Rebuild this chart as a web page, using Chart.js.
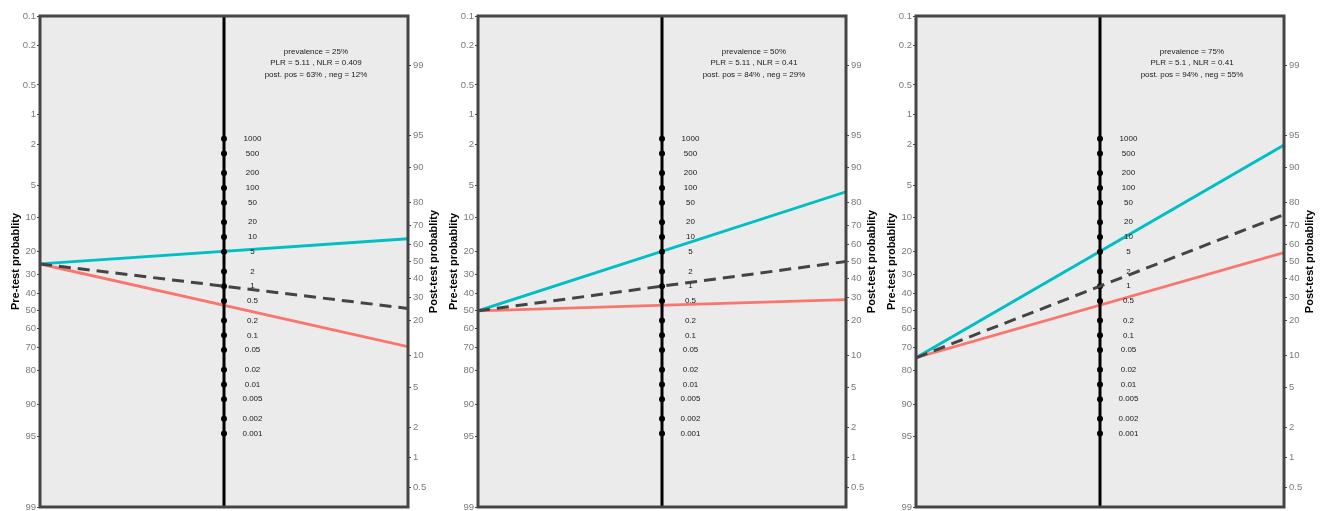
<!DOCTYPE html>
<html>
<head>
<meta charset="utf-8">
<script src="https://cdn.jsdelivr.net/npm/chart.js@4.4.1/dist/chart.umd.min.js"></script>
<style>
  html, body { margin: 0; padding: 0; background: #fff; }
  #wrap { position: relative; width: 1326px; height: 511px; overflow: hidden; }
  #wrap canvas { position: absolute; top: 0; }
</style>
</head>
<body>
<div id="wrap">
  <canvas id="panel0" width="446" height="511" style="left:0px"></canvas>
  <canvas id="panel1" width="446" height="511" style="left:438px"></canvas>
  <canvas id="panel2" width="446" height="511" style="left:876px"></canvas>
</div>
<script>
// Probability ticks (%) used on the pre-test and post-test axes
const PROB_TICKS = [0.1, 0.2, 0.5, 1, 2, 5, 10, 20, 30, 40, 50, 60, 70, 80, 90, 95, 99];
// Likelihood ratio ticks on the middle axis
const LR_TICKS = [0.001, 0.002, 0.005, 0.01, 0.02, 0.05, 0.1, 0.2, 0.5, 1, 2, 5, 10, 20, 50, 100, 200, 500, 1000];

// One entry per panel
const PREVALENCE = [25, 50, 75];
const PLR = [5.11, 5.11, 5.1];
const NLR = [0.409, 0.41, 0.41];
const POST_POS = [63, 84, 94];
const POST_NEG = [12, 29, 55];

const FONT = '"Liberation Sans", Arial, Helvetica, sans-serif';
const COLORS = { pos: '#00BFC4', neg: '#F8766D', nullLine: '#444444' };

// Nomogram transform (log-odds, pre-test axis flipped and shifted)
const logit = p => Math.log(p / (1 - p));
const LO_MIN = logit(PROB_TICKS[0] / 100);
const LO_MAX = logit(PROB_TICKS[PROB_TICKS.length - 1] / 100);
const HALF = (LO_MAX - LO_MIN) / 2;
const SHIFT = Math.abs(LO_MIN) - HALF;
const preY = p => -(logit(p / 100) + SHIFT);
const postY = p => logit(p / 100);
const lrY = lr => (Math.log(lr) - SHIFT) / 2;

// y position (data units) of the first annotation line
const ANNOT_Y = 4.91;

// Draws background, frame, titles, LR labels and annotation
const nomogramPlugin = {
    id: 'nomogram',
    beforeDatasetsDraw(chart) {
        const { ctx, chartArea: a } = chart;
        ctx.save();
        ctx.fillStyle = '#EBEBEB';
        ctx.fillRect(a.left, a.top, a.right - a.left, a.bottom - a.top);
        ctx.restore();
    },
    afterDatasetDraw(chart, args) {
        if (args.index !== 3) return;
        const { ctx, scales } = chart;
        const x = scales.x.getPixelForValue(0.5) + 28.5;
        ctx.save();
        ctx.font = '8px ' + FONT;
        ctx.fillStyle = '#1a1a1a';
        ctx.textAlign = 'center';
        ctx.textBaseline = 'middle';
        LR_TICKS.forEach(lr => {
            ctx.fillText(String(lr), x, scales.y.getPixelForValue(lrY(lr)));
        });
        ctx.restore();
    },
    afterDraw(chart) {
        const { ctx, chartArea: a, scales } = chart;
        const i = chart.options.plugins.nomogram.panel;
        ctx.save();
        // panel border
        ctx.strokeStyle = '#454545';
        ctx.lineWidth = 3;
        ctx.strokeRect(a.left, a.top, a.right - a.left, a.bottom - a.top);

        // axis titles, both read bottom to top
        const cy = (a.top + a.bottom) / 2;
        ctx.font = 'bold 11px ' + FONT;
        ctx.fillStyle = '#000';
        ctx.textAlign = 'center';
        ctx.textBaseline = 'middle';
        [[a.left - 24, 'Pre-test probablity'], [a.right + 26, 'Post-test probablity']].forEach(([tx, txt]) => {
            ctx.save();
            ctx.translate(tx, cy);
            ctx.rotate(-Math.PI / 2);
            ctx.fillText(txt, 0, 0);
            ctx.restore();
        });

        // annotation
        const lines = [
            `prevalence = ${PREVALENCE[i]}%`,
            `PLR = ${PLR[i]} , NLR = ${NLR[i]}`,
            `post. pos = ${POST_POS[i]}% , neg = ${POST_NEG[i]}%`
        ];
        const ax = scales.x.getPixelForValue(0.75);
        const ay = scales.y.getPixelForValue(ANNOT_Y);
        ctx.font = '8px ' + FONT;
        ctx.fillStyle = '#1a1a1a';
        lines.forEach((t, k) => ctx.fillText(t, ax, ay + k * 11.3));
        ctx.restore();
    }
};

function probAxis(position, valueFn, width) {
    return {
        type: 'linear',
        position: position,
        min: -HALF,
        max: HALF,
        afterBuildTicks: s => {
            s.ticks = PROB_TICKS
                .map(p => ({ value: valueFn(p), p: p }))
                .filter(t => t.value >= -HALF - 1e-9 && t.value <= HALF + 1e-9);
        },
        afterFit: s => {
            s.width = width;
            s.paddingTop = 0;
            s.paddingBottom = 0;
        },
        ticks: {
            autoSkip: false,
            padding: position === 'left' ? 1 : 2,
            color: '#7a7a7a',
            font: { family: FONT, size: 9.5 },
            callback: (v, idx, ticks) => String(ticks[idx].p)
        },
        grid: {
            drawOnChartArea: false,
            drawTicks: true,
            tickLength: 3,
            tickColor: '#444',
            tickWidth: 1
        },
        border: { display: false }
    };
}

function makePanel(i) {
    const prev = PREVALENCE[i];
    const start = { x: 0, y: preY(prev) };
    const lo = postY(prev);
    const datasets = [
        {
            label: 'Positive',
            data: [start, { x: 1, y: lo + Math.log(PLR[i]) }],
            showLine: true, borderColor: COLORS.pos, borderWidth: 2.8, pointRadius: 0, order: 5
        },
        {
            label: 'Negative',
            data: [start, { x: 1, y: lo + Math.log(NLR[i]) }],
            showLine: true, borderColor: COLORS.neg, borderWidth: 2.8, pointRadius: 0, order: 4
        },
        {
            label: 'LR axis',
            data: [{ x: 0.5, y: -HALF }, { x: 0.5, y: HALF }],
            showLine: true, borderColor: '#000', borderWidth: 3, pointRadius: 0, order: 3
        },
        {
            label: 'LR ticks',
            data: LR_TICKS.map(lr => ({ x: 0.5, y: lrY(lr) })),
            showLine: false, pointRadius: 3, pointBorderWidth: 0,
            pointBackgroundColor: '#000', order: 2
        },
        {
            label: 'Null',
            data: [start, { x: 1, y: lo }],
            showLine: true, borderColor: COLORS.nullLine, borderWidth: 3,
            borderDash: [12, 7], pointRadius: 0, order: 1
        }
    ];

    new Chart(document.getElementById('panel' + i), {
        type: 'scatter',
        data: { datasets: datasets },
        options: {
            responsive: false,
            animation: false,
            layout: { padding: { top: 16, bottom: 3, left: 0, right: 8 } },
            scales: {
                x: { type: 'linear', min: 0, max: 1, display: false },
                y: probAxis('left', preY, 40),
                y2: probAxis('right', postY, 30)
            },
            plugins: {
                legend: { display: false },
                tooltip: { enabled: false },
                nomogram: { panel: i }
            }
        },
        plugins: [nomogramPlugin]
    });
}

PREVALENCE.forEach((p, i) => makePanel(i));
</script>
</body>
</html>
